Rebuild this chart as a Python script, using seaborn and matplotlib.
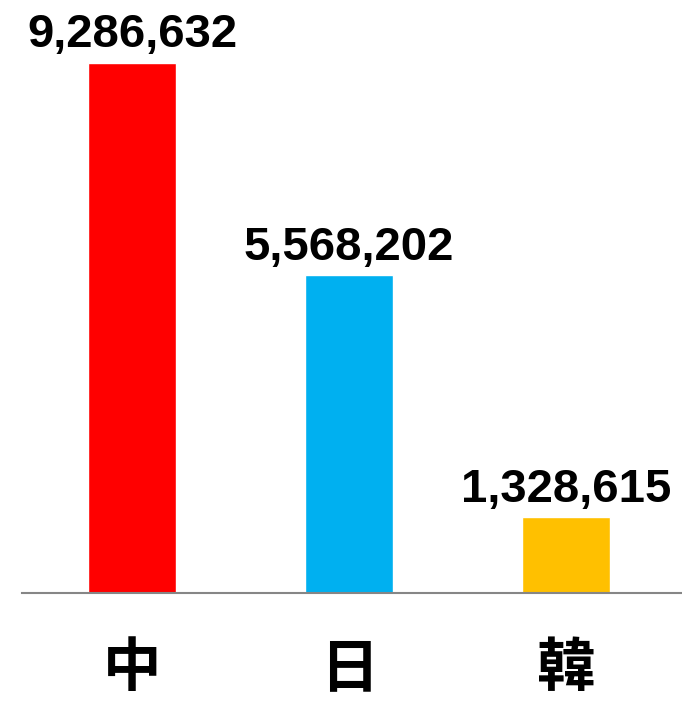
import matplotlib
matplotlib.use("Agg")
import matplotlib.pyplot as plt
import seaborn as sns
import pandas as pd

# data
countries = ["中", "日", "韓"]
values = [9286632, 5568202, 1328615]
colors = ["#FF0000", "#00B0F0", "#FFC000"]

df = pd.DataFrame({"country": countries, "value": values})

sns.set_style("white")
plt.rcParams['font.family'] = ['Liberation Sans', 'DejaVu Sans']

fig = plt.figure(figsize=(6.82, 7.04), dpi=100)
ax = fig.add_axes([22 / 682, 111 / 704, 660 / 682, 593 / 704])

sns.barplot(data=df, x="country", y="value", hue="country", palette=colors,
            width=0.405, legend=False, saturation=1, ax=ax)

ax.set_xlim(-0.507, 2.535)
ax.set_ylim(0, values[0] * 593 / 530)

# value labels above bars
for i, v in enumerate(values):
    ax.annotate(f"{v:,}", xy=(i, v), xytext=(0, 4), textcoords="offset points",
                ha="center", va="bottom", fontsize=34, fontweight="bold",
                color="black")

for s in ["top", "left", "right"]:
    ax.spines[s].set_visible(False)
ax.spines["bottom"].set_color("#868686")
ax.spines["bottom"].set_linewidth(1.5)

ax.set_yticks([])
ax.set_xlabel("")
ax.set_ylabel("")
ax.tick_params(axis="x", length=0, pad=33)
for lbl in ax.get_xticklabels():
    lbl.set_family(['Noto Sans CJK TC', 'DejaVu Sans'])
    lbl.set_fontsize(42)
    lbl.set_fontweight("bold")
    lbl.set_color("black")

fig.savefig("out.png", dpi=100)
